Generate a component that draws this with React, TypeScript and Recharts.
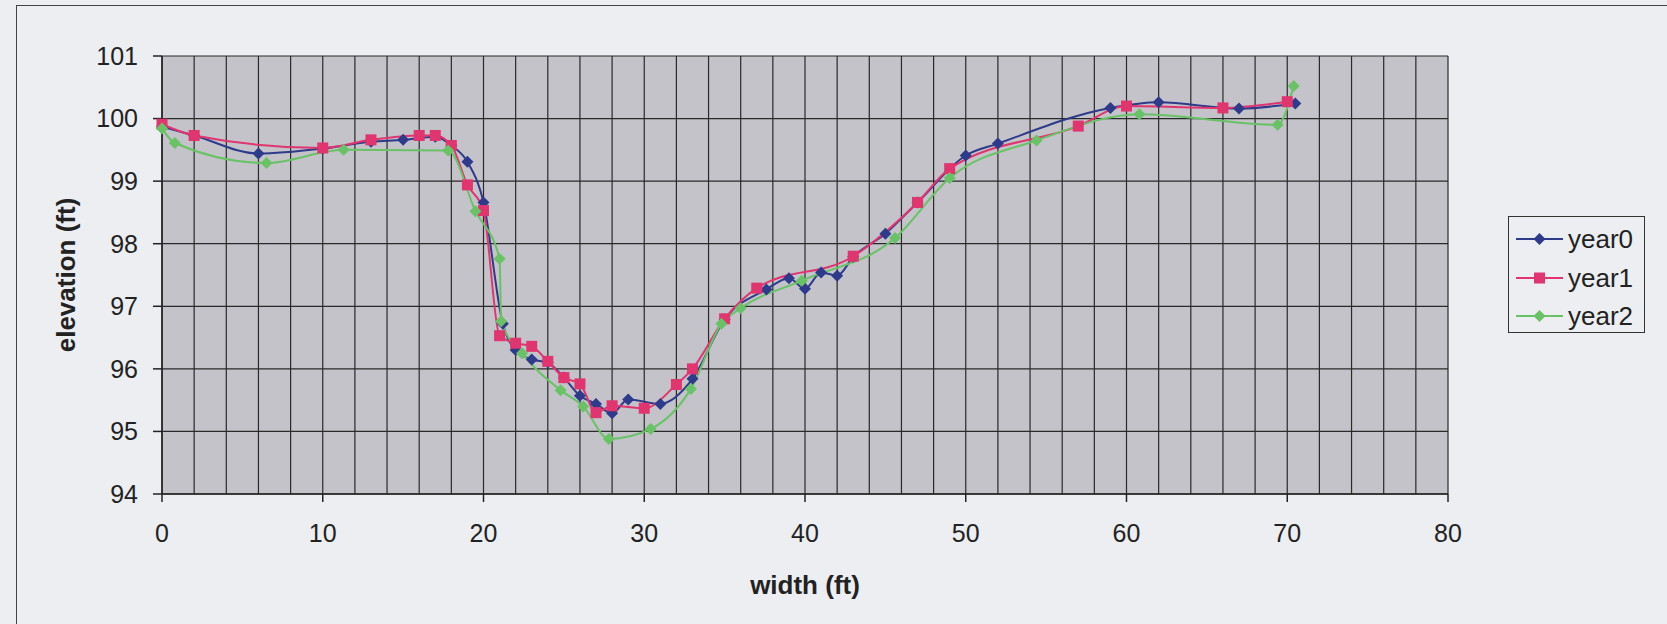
import { CartesianGrid, Label, Legend, Line, LineChart, XAxis, YAxis } from "recharts";

// x positions (ft) and elevations (ft)
const YEAR0_X = [0, 2, 6, 10, 13, 15, 17, 18, 19, 20, 21.2, 22, 23, 24, 25, 26, 27, 28, 29, 31, 33, 35, 37.6, 39, 40, 41, 42, 43, 45, 47, 50, 52, 59, 62, 67, 70.5];
const YEAR0_Y = [99.87, 99.73, 99.44, 99.52, 99.63, 99.66, 99.71, 99.57, 99.31, 98.66, 96.72, 96.3, 96.15, 96.1, 95.86, 95.57, 95.44, 95.29, 95.51, 95.44, 95.84, 96.79, 97.27, 97.45, 97.28, 97.54, 97.49, 97.79, 98.16, 98.66, 99.41, 99.6, 100.17, 100.26, 100.16, 100.24];

const YEAR1_X = [0, 2, 10, 13, 16, 17, 18, 19, 20, 21, 22, 23, 24, 25, 26, 27, 28, 30, 32, 33, 35, 37, 43, 47, 49, 57, 60, 66, 70];
const YEAR1_Y = [99.91, 99.73, 99.53, 99.66, 99.73, 99.73, 99.57, 98.94, 98.53, 96.53, 96.41, 96.36, 96.12, 95.86, 95.76, 95.3, 95.41, 95.37, 95.75, 96.0, 96.8, 97.29, 97.8, 98.66, 99.2, 99.88, 100.2, 100.17, 100.27];

const YEAR2_X = [0, 0.8, 6.5, 11.3, 17.8, 19.5, 21, 21.1, 22.4, 24.8, 26.2, 27.8, 30.4, 32.9, 34.8, 36, 39.8, 45.6, 49, 54.4, 60.8, 69.4, 70.4];
const YEAR2_Y = [99.84, 99.61, 99.29, 99.5, 99.49, 98.52, 97.76, 96.76, 96.25, 95.66, 95.4, 94.88, 95.04, 95.68, 96.72, 96.97, 97.41, 98.09, 99.05, 99.65, 100.07, 99.9, 100.52];

const X_TICKS = [0, 10, 20, 30, 40, 50, 60, 70, 80];
const Y_TICKS = [94, 95, 96, 97, 98, 99, 100, 101];
const GRID_X = Array.from({ length: 41 }, (_, i) => i * 2);

const FONT = "'Liberation Sans', Arial, sans-serif";

const toPoints = (xs: number[], ys: number[]) => xs.map((x, i) => ({ x, y: ys[i] }));

const SERIES = [
  { name: "year0", color: "#2e3a8a", marker: "diamond", data: toPoints(YEAR0_X, YEAR0_Y) },
  { name: "year1", color: "#e0356f", marker: "square", data: toPoints(YEAR1_X, YEAR1_Y) },
  { name: "year2", color: "#69c266", marker: "diamond", data: toPoints(YEAR2_X, YEAR2_Y) },
];

function Marker({ cx, cy, shape, color }: { cx: number; cy: number; shape: string; color: string }) {
  if (shape === "square") {
    return <rect x={cx - 5.5} y={cy - 5.5} width={11} height={11} fill={color} />;
  }
  const r = 6;
  return <path d={`M${cx},${cy - r}L${cx + r},${cy}L${cx},${cy + r}L${cx - r},${cy}Z`} fill={color} />;
}

function LegendBox() {
  return (
    <div
      style={{
        width: 137,
        height: 117,
        boxSizing: "border-box",
        border: "1.5px solid #333",
        background: "#eceef1",
        paddingTop: 3,
        paddingLeft: 7,
        fontFamily: FONT,
      }}
    >
      {SERIES.map((s) => (
        <div key={s.name} style={{ display: "flex", alignItems: "center", height: 38.5 }}>
          <svg width={47} height={16}>
            <line x1={0} y1={8} x2={47} y2={8} stroke={s.color} strokeWidth={2} />
            <Marker cx={23.5} cy={8} shape={s.marker} color={s.color} />
          </svg>
          <span style={{ marginLeft: 5, fontSize: 26, color: "#222", lineHeight: 1 }}>{s.name}</span>
        </div>
      ))}
    </div>
  );
}

export default function App() {
  return (
    <div style={{ position: "absolute", left: 0, top: 0, width: 1667, height: 624, background: "#eceef1", overflow: "hidden" }}>
      <div
        style={{
          position: "absolute",
          left: 16,
          top: 5,
          width: 1700,
          height: 700,
          borderLeft: "1.5px solid #444",
          borderTop: "1.5px solid #444",
        }}
      />
      <LineChart width={1667} height={624} margin={{ top: 56, right: 219, left: 0, bottom: 0 }}>
        <CartesianGrid
          verticalValues={GRID_X}
          horizontalValues={Y_TICKS}
          stroke="#2a2a2a"
          strokeWidth={1.2}
          fill="#c3c3c9"
          fillOpacity={1}
        />
        <XAxis
          type="number"
          dataKey="x"
          domain={[0, 80]}
          ticks={X_TICKS}
          height={130}
          tickSize={8}
          tickMargin={22}
          axisLine={{ stroke: "#222", strokeWidth: 1.5 }}
          tickLine={{ stroke: "#222", strokeWidth: 1.5 }}
          tick={{ fill: "#222", fontSize: 25, fontFamily: FONT }}
        >
          <Label
            content={({ viewBox }: any) => (
              <text
                x={viewBox.x + viewBox.width / 2}
                y={585}
                textAnchor="middle"
                dominantBaseline="central"
                fontSize={26}
                fontWeight="bold"
                fontFamily={FONT}
                fill="#222"
              >
                width (ft)
              </text>
            )}
          />
        </XAxis>
        <YAxis
          type="number"
          domain={[94, 101]}
          ticks={Y_TICKS}
          width={162}
          tickSize={9}
          tickMargin={15}
          axisLine={{ stroke: "#222", strokeWidth: 1.5 }}
          tickLine={{ stroke: "#222", strokeWidth: 1.5 }}
          tick={{ fill: "#222", fontSize: 25, fontFamily: FONT }}
        >
          <Label
            content={({ viewBox }: any) => (
              <text
                x={66}
                y={viewBox.y + viewBox.height / 2}
                transform={`rotate(-90 66 ${viewBox.y + viewBox.height / 2})`}
                textAnchor="middle"
                dominantBaseline="central"
                fontSize={26}
                fontWeight="bold"
                fontFamily={FONT}
                fill="#222"
              >
                elevation (ft)
              </text>
            )}
          />
        </YAxis>
        {SERIES.map((s) => (
          <Line
            key={s.name}
            name={s.name}
            data={s.data}
            dataKey="y"
            type="monotone"
            stroke={s.color}
            strokeWidth={2}
            isAnimationActive={false}
            dot={(p: any) => <Marker key={`${s.name}-${p.index}`} cx={p.cx} cy={p.cy} shape={s.marker} color={s.color} />}
            activeDot={false}
          />
        ))}
        <Legend
          layout="vertical"
          align="center"
          verticalAlign="middle"
          content={() => <LegendBox />}
          wrapperStyle={{ left: 1508, top: 216, width: 137, height: 117 }}
        />
      </LineChart>
    </div>
  );
}
